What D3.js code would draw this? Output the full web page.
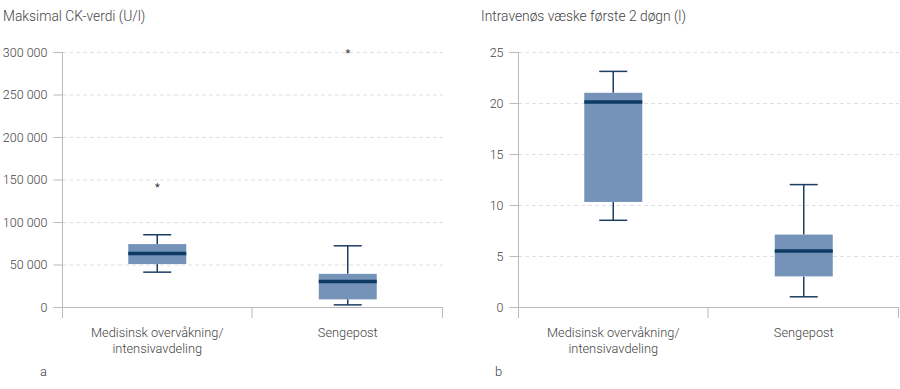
<!DOCTYPE html>
<html><head><meta charset="utf-8">
<script src="https://cdn.jsdelivr.net/npm/d3@7"></script>
<style>
body{margin:0;background:#fff;}
text{font-family:Roboto,"DejaVu Sans",sans-serif;fill:#444;font-weight:300;}
</style></head>
<body><svg id="c" width="900" height="389"></svg>
<script>
const categories = ["Medisinsk overvåkning/\nintensivavdeling", "Sengepost"];
// Panel a: Maksimal CK-verdi (U/l)
const ckWhiskerLow = [41000, 2500];
const ckQ1 = [50500, 9000];
const ckMedian = [63000, 30000];
const ckQ3 = [74000, 39000];
const ckWhiskerHigh = [85000, 72000];
const ckOutliers = [[143500], [301000]];
const ckTicks = [0, 50000, 100000, 150000, 200000, 250000, 300000];
// Panel b: Intravenøs væske første 2 døgn (l)
const ivWhiskerLow = [8.5, 1.0];
const ivQ1 = [10.3, 3.0];
const ivMedian = [20.1, 5.5];
const ivQ3 = [21.0, 7.1];
const ivWhiskerHigh = [23.1, 12.0];
const ivOutliers = [[], []];
const ivTicks = [0, 5, 10, 15, 20, 25];

const svg = d3.select("#c");
const fmt = v => d3.format(",")(v).replace(/,/g, " ");

function panel(opt) {
  const g = svg.append("g");
  const x = d3.scaleBand().domain(categories).range([opt.x0, opt.x1]).paddingInner(0).paddingOuter(0);
  const y = d3.scaleLinear().domain([0, opt.ymax]).range([307, 52]);
  // title
  g.append("text").attr("x", opt.titleX).attr("y", 21).attr("font-size", 13.8).text(opt.title);
  // grid
  g.selectAll(".grid").data(opt.ticks.filter(t => t > 0)).join("line")
    .attr("x1", opt.x0).attr("x2", opt.x1)
    .attr("y1", d => y(d) + 0.5).attr("y2", d => y(d) + 0.5)
    .attr("stroke", "#e0e0e0").attr("stroke-dasharray", "4,3");
  // y axis
  const ya = d3.axisLeft(y).tickValues(opt.ticks).tickFormat(fmt).tickSize(9).tickPadding(6);
  const yg = g.append("g").attr("transform", `translate(${opt.x0 + 0.5},0)`).call(ya);
  yg.select(".domain").remove();
  yg.selectAll("line").attr("stroke", "#bbb");
  yg.selectAll("text").attr("font-size", 12.5).style("font-family", "Roboto, sans-serif").style("font-weight", 300).attr("fill", "#444");
  g.append("line").attr("x1", opt.x0 + 0.5).attr("x2", opt.x0 + 0.5).attr("y1", 52).attr("y2", 318).attr("stroke", "#bbb");
  // x axis
  g.append("line").attr("x1", opt.x0).attr("x2", opt.x1).attr("y1", 307.5).attr("y2", 307.5).attr("stroke", "#bbb");
  const bounds = [opt.x0, ...categories.map(c => x(c) + x.bandwidth())];
  g.selectAll(".xt").data(bounds.slice(1)).join("line")
    .attr("x1", d => d - 0.5).attr("x2", d => d - 0.5).attr("y1", 307).attr("y2", 318).attr("stroke", "#bbb");
  // category labels
  categories.forEach(c => {
    const t = g.append("text").attr("text-anchor", "middle").attr("font-size", 12.8)
      .attr("x", x(c) + x.bandwidth() / 2).attr("y", 337);
    c.split("\n").forEach((line, i) => t.append("tspan").attr("x", x(c) + x.bandwidth() / 2).attr("dy", i ? 16 : 0).text(line));
  });
  // boxes
  const bw = 58, cw = 28;
  categories.forEach((c, i) => {
    const cx = x(c) + x.bandwidth() / 2;
    const col = "#1d3d63";
    g.append("line").attr("x1", cx).attr("x2", cx).attr("y1", y(opt.wh[i])).attr("y2", y(opt.q3[i])).attr("stroke", col).attr("stroke-width", 1.5);
    g.append("line").attr("x1", cx).attr("x2", cx).attr("y1", y(opt.q1[i])).attr("y2", y(opt.wl[i])).attr("stroke", col).attr("stroke-width", 1.5);
    g.append("line").attr("x1", cx - cw / 2).attr("x2", cx + cw / 2).attr("y1", y(opt.wh[i])).attr("y2", y(opt.wh[i])).attr("stroke", col).attr("stroke-width", 1.5);
    g.append("line").attr("x1", cx - cw / 2).attr("x2", cx + cw / 2).attr("y1", y(opt.wl[i])).attr("y2", y(opt.wl[i])).attr("stroke", col).attr("stroke-width", 1.5);
    g.append("rect").attr("x", cx - bw / 2).attr("width", bw)
      .attr("y", y(opt.q3[i])).attr("height", y(opt.q1[i]) - y(opt.q3[i]))
      .attr("fill", "#7592b9");
    g.append("line").attr("x1", cx - bw / 2).attr("x2", cx + bw / 2).attr("y1", y(opt.med[i])).attr("y2", y(opt.med[i]))
      .attr("stroke", "#0c3a62").attr("stroke-width", 3.5);
    opt.out[i].forEach(v => {
      g.append("text").attr("x", cx).attr("y", y(v) + 6).attr("text-anchor", "middle").attr("font-size", 11).style("fill", "#333").style("font-weight", 400).text("*");
    });
  });
  g.append("text").attr("x", opt.letterX).attr("y", 376).attr("font-size", 13).text(opt.letter);
}

panel({x0: 62, x1: 443, ymax: 300000, ticks: ckTicks, title: "Maksimal CK-verdi (U/l)", titleX: 3,
  wl: ckWhiskerLow, q1: ckQ1, med: ckMedian, q3: ckQ3, wh: ckWhiskerHigh, out: ckOutliers, letter: "a", letterX: 40});
panel({x0: 518, x1: 899, ymax: 25, ticks: ivTicks, title: "Intravenøs væske første 2 døgn (l)", titleX: 481,
  wl: ivWhiskerLow, q1: ivQ1, med: ivMedian, q3: ivQ3, wh: ivWhiskerHigh, out: ivOutliers, letter: "b", letterX: 495});
</script></body></html>
